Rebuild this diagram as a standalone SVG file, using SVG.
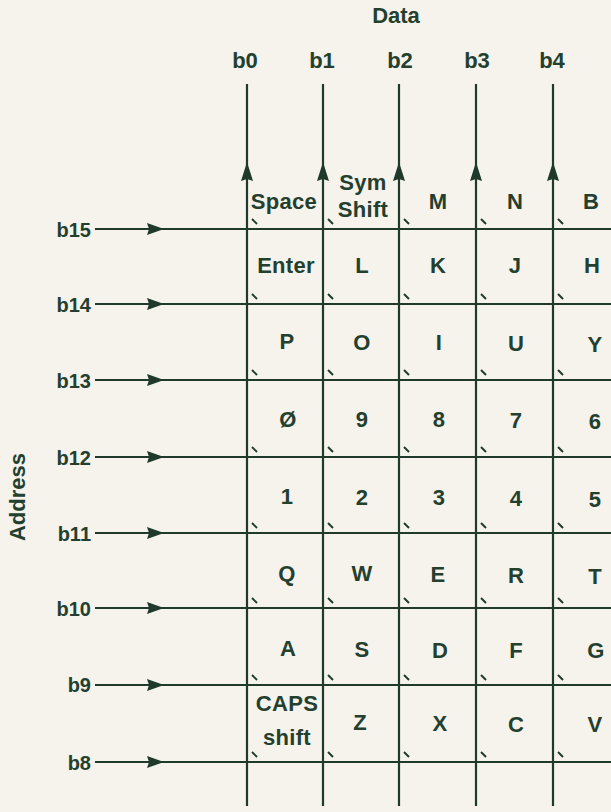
<svg xmlns="http://www.w3.org/2000/svg" width="611" height="812" viewBox="0 0 611 812">
<style>
text{font-family:"Liberation Sans",Arial,sans-serif;font-weight:bold;fill:#23402f}
.hdr{font-size:22px;text-anchor:middle}
.row{font-size:20px;text-anchor:end}
.k{font-size:22px;text-anchor:middle;letter-spacing:0.3px}
.ln{stroke:#1f3a2b;stroke-width:2.2;fill:none}
.tk{stroke:#1f3a2b;stroke-width:1.9;fill:none}
</style>
<defs>
<path id="au" d="M0,0 L-6,19 L0,17 L6,19 Z" fill="#1f3a2b"/>
<path id="ar" d="M0,0 L-17,-6 L-15,0 L-17,6 Z" fill="#1f3a2b"/>
<path id="tick" d="M5,-10 L10,-5" class="tk"/>
</defs>
<rect width="611" height="812" fill="#f6f2ec"/>

<g id="titles">
<text class="hdr" x="396" y="23" font-size="21">Data</text>
<text class="hdr" transform="translate(25,497) rotate(-90)">Address</text>
</g>

<g id="data-labels">
<text class="hdr" x="245" y="68">b0</text>
<text class="hdr" x="322" y="68">b1</text>
<text class="hdr" x="400" y="68">b2</text>
<text class="hdr" x="477" y="68">b3</text>
<text class="hdr" x="552" y="68">b4</text>
</g>

<g id="address-labels">
<text class="row" x="91" y="237">b15</text>
<text class="row" x="91" y="312">b14</text>
<text class="row" x="91" y="388">b13</text>
<text class="row" x="91" y="465">b12</text>
<text class="row" x="91" y="541">b11</text>
<text class="row" x="91" y="616">b10</text>
<text class="row" x="91" y="692">b9</text>
<text class="row" x="91" y="770">b8</text>
</g>

<g id="connectors">
<g id="data-lines">
<line class="ln" x1="247" y1="84" x2="247" y2="806"/>
<line class="ln" x1="323" y1="84" x2="323" y2="806"/>
<line class="ln" x1="399" y1="84" x2="399" y2="806"/>
<line class="ln" x1="476" y1="84" x2="476" y2="806"/>
<line class="ln" x1="553" y1="84" x2="553" y2="806"/>
<use href="#au" x="247" y="162"/>
<use href="#au" x="323" y="162"/>
<use href="#au" x="399" y="162"/>
<use href="#au" x="476" y="162"/>
<use href="#au" x="553" y="162"/>
</g>
<g id="address-lines">
<line class="ln" x1="95" y1="229" x2="611" y2="229"/>
<line class="ln" x1="95" y1="304" x2="611" y2="304"/>
<line class="ln" x1="95" y1="380" x2="611" y2="380"/>
<line class="ln" x1="95" y1="457" x2="611" y2="457"/>
<line class="ln" x1="95" y1="533" x2="611" y2="533"/>
<line class="ln" x1="95" y1="608" x2="611" y2="608"/>
<line class="ln" x1="95" y1="685" x2="611" y2="685"/>
<line class="ln" x1="95" y1="762" x2="611" y2="762"/>
<use href="#ar" x="164" y="229"/>
<use href="#ar" x="164" y="304"/>
<use href="#ar" x="164" y="380"/>
<use href="#ar" x="164" y="457"/>
<use href="#ar" x="164" y="533"/>
<use href="#ar" x="164" y="608"/>
<use href="#ar" x="164" y="685"/>
<use href="#ar" x="164" y="762"/>
</g>
<g id="diodes">
<use href="#tick" x="247" y="229"/><use href="#tick" x="323" y="229"/><use href="#tick" x="399" y="229"/><use href="#tick" x="476" y="229"/><use href="#tick" x="553" y="229"/>
<use href="#tick" x="247" y="304"/><use href="#tick" x="323" y="304"/><use href="#tick" x="399" y="304"/><use href="#tick" x="476" y="304"/><use href="#tick" x="553" y="304"/>
<use href="#tick" x="247" y="380"/><use href="#tick" x="323" y="380"/><use href="#tick" x="399" y="380"/><use href="#tick" x="476" y="380"/><use href="#tick" x="553" y="380"/>
<use href="#tick" x="247" y="457"/><use href="#tick" x="323" y="457"/><use href="#tick" x="399" y="457"/><use href="#tick" x="476" y="457"/><use href="#tick" x="553" y="457"/>
<use href="#tick" x="247" y="533"/><use href="#tick" x="323" y="533"/><use href="#tick" x="399" y="533"/><use href="#tick" x="476" y="533"/><use href="#tick" x="553" y="533"/>
<use href="#tick" x="247" y="608"/><use href="#tick" x="323" y="608"/><use href="#tick" x="399" y="608"/><use href="#tick" x="476" y="608"/><use href="#tick" x="553" y="608"/>
<use href="#tick" x="247" y="685"/><use href="#tick" x="323" y="685"/><use href="#tick" x="399" y="685"/><use href="#tick" x="476" y="685"/><use href="#tick" x="553" y="685"/>
<use href="#tick" x="247" y="762"/><use href="#tick" x="323" y="762"/><use href="#tick" x="399" y="762"/><use href="#tick" x="476" y="762"/><use href="#tick" x="553" y="762"/>
</g>
</g>

<g id="row-b15">
<text class="k" x="284" y="209">Space</text>
<text class="k" x="363" y="190">Sym</text>
<text class="k" x="363" y="217">Shift</text>
<text class="k" x="438" y="209">M</text>
<text class="k" x="515" y="209">N</text>
<text class="k" x="591" y="209">B</text>
</g>
<g id="row-b14">
<text class="k" x="286" y="273">Enter</text>
<text class="k" x="362" y="273">L</text>
<text class="k" x="438" y="273">K</text>
<text class="k" x="515" y="273">J</text>
<text class="k" x="592" y="273">H</text>
</g>
<g id="row-b13">
<text class="k" x="287" y="349">P</text>
<text class="k" x="362" y="350">O</text>
<text class="k" x="439" y="350">I</text>
<text class="k" x="516" y="351">U</text>
<text class="k" x="595" y="352">Y</text>
</g>
<g id="row-b12">
<text class="k" x="288" y="427">Ø</text>
<text class="k" x="362" y="427">9</text>
<text class="k" x="439" y="427">8</text>
<text class="k" x="516" y="428">7</text>
<text class="k" x="595" y="429">6</text>
</g>
<g id="row-b11">
<text class="k" x="287" y="504">1</text>
<text class="k" x="362" y="505">2</text>
<text class="k" x="439" y="505">3</text>
<text class="k" x="516" y="506">4</text>
<text class="k" x="595" y="507">5</text>
</g>
<g id="row-b10">
<text class="k" x="287" y="581">Q</text>
<text class="k" x="362" y="581">W</text>
<text class="k" x="438" y="582">E</text>
<text class="k" x="516" y="583">R</text>
<text class="k" x="595" y="584">T</text>
</g>
<g id="row-b9">
<text class="k" x="288" y="656">A</text>
<text class="k" x="362" y="657">S</text>
<text class="k" x="440" y="658">D</text>
<text class="k" x="516" y="658">F</text>
<text class="k" x="596" y="658">G</text>
</g>
<g id="row-b8">
<text class="k" x="287" y="711">CAPS</text>
<text class="k" x="287" y="745">shift</text>
<text class="k" x="360" y="730">Z</text>
<text class="k" x="440" y="731">X</text>
<text class="k" x="516" y="732">C</text>
<text class="k" x="595" y="732">V</text>
</g>
</svg>
